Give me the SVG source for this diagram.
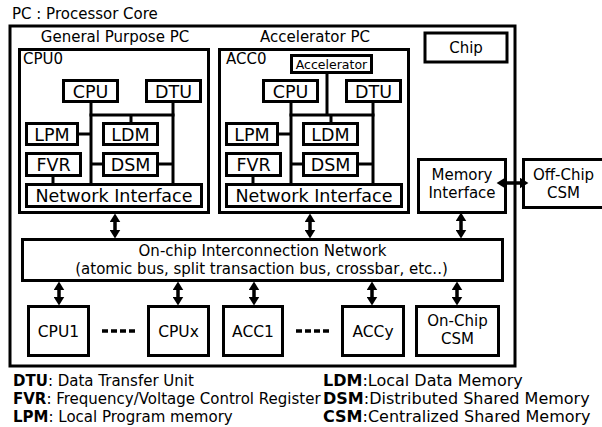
<svg xmlns="http://www.w3.org/2000/svg" width="602" height="427" viewBox="0 0 602 427">
<defs>
<style>
text{font-family:"DejaVu Sans","Liberation Sans",sans-serif;fill:#000}
.t15{font-size:15px}
.t17{font-size:17.5px}
.t16{font-size:15.5px}
.acc{font-size:12.5px}
.c{text-anchor:middle}
.b{font-weight:bold}
.box{fill:#fff;stroke:#000;stroke-width:3}
.ln{stroke:#000;stroke-width:3;fill:none}
.arr{stroke:#000;stroke-width:3.5;fill:none;marker-start:url(#ah);marker-end:url(#ah)}
.dash{stroke:#000;stroke-width:3.5;stroke-dasharray:6 3;fill:none}
</style>
<marker id="ah" markerUnits="userSpaceOnUse" markerWidth="11" markerHeight="11" refX="4" refY="5" orient="auto-start-reverse" viewBox="0 0 10 10">
<path d="M0,0 L8,5 L0,10 z" fill="#000"/>
</marker>
</defs>
<rect width="602" height="427" fill="#fff"/>

<text class="t15" x="12" y="19">PC : Processor Core</text>

<g id="chip">
<rect class="box" x="10" y="26" width="505" height="340"/>
<text class="t15 c" x="115" y="42">General Purpose PC</text>
<text class="t15 c" x="315" y="42">Accelerator PC</text>
</g>

<g id="chip-label">
<rect class="box" x="425" y="33" width="82" height="29"/>
<text class="t15 c" x="466" y="53">Chip</text>
</g>

<g id="cpu0">
<rect class="box" x="19.5" y="49.5" width="189" height="163"/>
<text class="t15" x="23" y="64">CPU0</text>
<g class="ln">
<line x1="91" y1="102" x2="91" y2="184"/>
<line x1="89.5" y1="115" x2="174.5" y2="115"/>
<line x1="173" y1="102" x2="173" y2="184"/>
<line x1="131" y1="115" x2="131" y2="123"/>
<line x1="78" y1="134" x2="91" y2="134"/>
<line x1="91" y1="164" x2="103" y2="164"/>
<line x1="158" y1="164" x2="173" y2="164"/>
<line x1="53" y1="176" x2="53" y2="184"/>
</g>
<g id="cpu0-cpu"><rect class="box" x="63.5" y="80.5" width="54" height="21"/><text class="t17 c" x="90.5" y="97.5">CPU</text></g>
<g id="cpu0-dtu"><rect class="box" x="146.5" y="80.5" width="54" height="21"/><text class="t17 c" x="173.5" y="97.5">DTU</text></g>
<g id="cpu0-lpm"><rect class="box" x="26.5" y="123.5" width="51" height="21"/><text class="t17 c" x="52" y="140.5">LPM</text></g>
<g id="cpu0-ldm"><rect class="box" x="103.5" y="123.5" width="54" height="21"/><text class="t17 c" x="130.5" y="140.5">LDM</text></g>
<g id="cpu0-fvr"><rect class="box" x="26.5" y="153.5" width="54" height="22"/><text class="t17 c" x="53.5" y="171">FVR</text></g>
<g id="cpu0-dsm"><rect class="box" x="103.5" y="153.5" width="54" height="22"/><text class="t17 c" x="130.5" y="171">DSM</text></g>
<g id="cpu0-ni"><rect class="box" x="26.5" y="184.5" width="175" height="22"/><text class="t17 c" x="114" y="202">Network Interface</text></g>
</g>

<g id="acc0">
<rect class="box" x="219.5" y="49.5" width="189" height="163"/>
<text class="t15" x="226" y="64">ACC0</text>
<g class="ln">
<line x1="291" y1="102" x2="291" y2="184"/>
<line x1="289.5" y1="115" x2="374.5" y2="115"/>
<line x1="373" y1="102" x2="373" y2="184"/>
<line x1="327" y1="73" x2="327" y2="115"/>
<line x1="331" y1="115" x2="331" y2="123"/>
<line x1="278" y1="134" x2="291" y2="134"/>
<line x1="291" y1="164" x2="303" y2="164"/>
<line x1="358" y1="164" x2="373" y2="164"/>
<line x1="253" y1="176" x2="253" y2="184"/>
</g>
<g id="acc0-accel"><rect class="box" x="291.5" y="55.5" width="80" height="17"/><text class="acc c" x="331.5" y="68.5">Accelerator</text></g>
<g id="acc0-cpu"><rect class="box" x="263.5" y="80.5" width="54" height="21"/><text class="t17 c" x="290.5" y="97.5">CPU</text></g>
<g id="acc0-dtu"><rect class="box" x="346.5" y="80.5" width="54" height="21"/><text class="t17 c" x="373.5" y="97.5">DTU</text></g>
<g id="acc0-lpm"><rect class="box" x="226.5" y="123.5" width="51" height="21"/><text class="t17 c" x="252" y="140.5">LPM</text></g>
<g id="acc0-ldm"><rect class="box" x="303.5" y="123.5" width="54" height="21"/><text class="t17 c" x="330.5" y="140.5">LDM</text></g>
<g id="acc0-fvr"><rect class="box" x="226.5" y="153.5" width="54" height="22"/><text class="t17 c" x="253.5" y="171">FVR</text></g>
<g id="acc0-dsm"><rect class="box" x="303.5" y="153.5" width="54" height="22"/><text class="t17 c" x="330.5" y="171">DSM</text></g>
<g id="acc0-ni"><rect class="box" x="226.5" y="184.5" width="175" height="22"/><text class="t17 c" x="314" y="202">Network Interface</text></g>
</g>

<g id="memif">
<rect class="box" x="418.5" y="159.5" width="87" height="53"/>
<text class="t15 c" x="462" y="180">Memory</text>
<text class="t15 c" x="462" y="198">Interface</text>
</g>

<g id="offchip-csm">
<rect class="box" x="523.5" y="159.5" width="90" height="48"/>
<text class="t15 c" x="563.5" y="180">Off-Chip</text>
<text class="t15 c" x="563.5" y="198">CSM</text>
</g>

<g id="interconnect">
<rect class="box" x="22.5" y="239.5" width="480" height="41"/>
<text class="t15 c" x="262.5" y="256">On-chip Interconnection Network</text>
<text class="t15 c" x="261.5" y="274">(atomic bus, split transaction bus, crossbar, etc..)</text>
</g>

<g id="cpu1"><rect class="box" x="28.5" y="306.5" width="60" height="49"/><text class="t16 c" x="58.5" y="337">CPU1</text></g>
<g id="cpux"><rect class="box" x="148.5" y="306.5" width="60" height="49"/><text class="t16 c" x="178.5" y="337">CPUx</text></g>
<g id="acc1"><rect class="box" x="223.5" y="306.5" width="59" height="49"/><text class="t16 c" x="253" y="337">ACC1</text></g>
<g id="accy"><rect class="box" x="342.5" y="306.5" width="61" height="49"/><text class="t16 c" x="373" y="337">ACCy</text></g>
<g id="onchip-csm"><rect class="box" x="416.5" y="306.5" width="82" height="49"/><text class="t15 c" x="457.5" y="326">On-Chip</text><text class="t15 c" x="457.5" y="344">CSM</text></g>

<g id="connectors">
<line class="arr" x1="115" y1="218" x2="115" y2="234"/>
<line class="arr" x1="310" y1="218" x2="310" y2="234"/>
<line class="arr" x1="461" y1="217" x2="461" y2="234"/>
<line class="arr" x1="59" y1="286" x2="59" y2="301"/>
<line class="arr" x1="178" y1="286" x2="178" y2="301"/>
<line class="arr" x1="254" y1="286" x2="254" y2="301"/>
<line class="arr" x1="372" y1="286" x2="372" y2="301"/>
<line class="arr" x1="457" y1="286" x2="457" y2="301"/>
<line class="arr" x1="501" y1="183" x2="524" y2="183"/>
<line class="dash" x1="102" y1="331" x2="135" y2="331"/>
<line class="dash" x1="296" y1="331" x2="329" y2="331"/>
</g>

<g id="legend" class="t15">
<text x="13" y="386"><tspan class="b">DTU</tspan>: Data Transfer Unit</text>
<text x="13" y="404"><tspan class="b">FVR</tspan>: Frequency/Voltage Control Register</text>
<text x="13" y="422"><tspan class="b">LPM</tspan>: Local Program memory</text>
<text x="323" y="386" font-size="16"><tspan class="b">LDM</tspan>:Local Data Memory</text>
<text x="323" y="404" font-size="16"><tspan class="b">DSM</tspan>:Distributed Shared Memory</text>
<text x="323" y="422" font-size="16"><tspan class="b">CSM</tspan>:Centralized Shared Memory</text>
</g>
</svg>
